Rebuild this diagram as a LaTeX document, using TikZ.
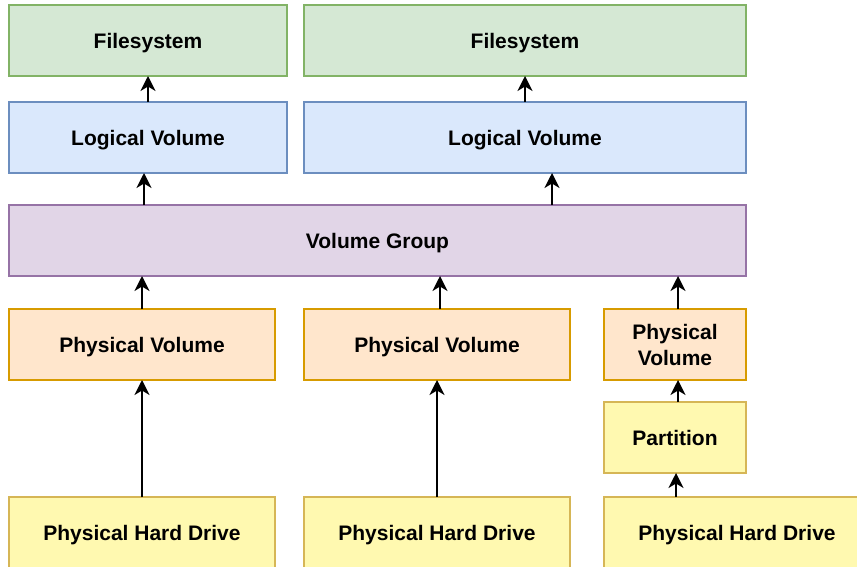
\documentclass[tikz,border=0pt]{standalone}
\usepackage{fontspec}
\setmainfont{Liberation Sans}
\usetikzlibrary{arrows.meta,calc}
\definecolor{gfill}{HTML}{D5E8D4}\definecolor{gdraw}{HTML}{82B366}
\definecolor{bfill}{HTML}{DAE8FC}\definecolor{bdraw}{HTML}{6C8EBF}
\definecolor{pfill}{HTML}{E1D5E7}\definecolor{pdraw}{HTML}{9673A6}
\definecolor{ofill}{HTML}{FFE6CC}\definecolor{odraw}{HTML}{D79B00}
\definecolor{yfill}{HTML}{FFF9B0}\definecolor{ydraw}{HTML}{D6B656}
\begin{document}
\begin{tikzpicture}[x=1pt,y=-1pt,
  box/.style={rectangle, line width=1.5pt, minimum height=71pt, inner sep=0pt, outer sep=0pt,
    align=center, text depth=0pt, font=\fontsize{21}{26}\selectfont\bfseries},
  fsbox/.style={box, fill=gfill, draw=gdraw},
  lvbox/.style={box, fill=bfill, draw=bdraw},
  vgbox/.style={box, fill=pfill, draw=pdraw},
  pvbox/.style={box, fill=ofill, draw=odraw},
  hdbox/.style={box, fill=yfill, draw=ydraw},
  arr/.style={line width=1.8pt, -{Stealth[length=15pt,width=15pt,inset=4.5pt]}}]
\useasboundingbox (0,0) rectangle (857,567);
\clip (0,0) rectangle (857,567);
% boxes
\node[fsbox, minimum width=278pt] (fs1) at (148,40.5) {Filesystem};
\node[fsbox, minimum width=442pt] (fs2) at (525,40.5) {Filesystem};
\node[lvbox, minimum width=278pt] (lv1) at (148,137.5) {Logical Volume};
\node[lvbox, minimum width=442pt] (lv2) at (525,137.5) {Logical Volume};
\node[vgbox, minimum width=737pt] (vg) at (377.5,240.5) {Volume Group};
\node[pvbox, minimum width=266pt] (pv1) at (142,344.5) {Physical Volume};
\node[pvbox, minimum width=266pt] (pv2) at (437,344.5) {Physical Volume};
\node[pvbox, minimum width=142pt] (pv3) at (675,344.5) {Physical\\Volume};
\node[hdbox, minimum width=142pt] (part) at (675,437.5) {Partition};
\node[hdbox, minimum width=266pt] (hd1) at (142,532.5) {Physical Hard Drive};
\node[hdbox, minimum width=266pt] (hd2) at (437,532.5) {Physical Hard Drive};
\node[hdbox, minimum width=266pt] (hd3) at (737,532.5) {Physical Hard Drive};
% connectors
\draw[arr] (lv1.north) -- (fs1.south);
\draw[arr] (lv2.north) -- (fs2.south);
\draw[arr] ([xshift=-4pt]vg.north -| lv1.south) -- ([xshift=-4pt]lv1.south);
\draw[arr] ([xshift=27pt]vg.north -| lv2.south) -- ([xshift=27pt]lv2.south);
\draw[arr] (pv1.north) -- (pv1.north |- vg.south);
\draw[arr] ([xshift=3pt]pv2.north) -- ([xshift=3pt]pv2.north |- vg.south);
\draw[arr] ([xshift=3pt]pv3.north) -- ([xshift=3pt]pv3.north |- vg.south);
\draw[arr] (hd1.north -| pv1.south) -- (pv1.south);
\draw[arr] (hd2.north -| pv2.south) -- (pv2.south);
\draw[arr] ([xshift=3pt]part.north) -- ([xshift=3pt]pv3.south);
\draw[arr] ([xshift=1pt]hd3.north -| part.south) -- ([xshift=1pt]part.south);
\end{tikzpicture}
\end{document}
